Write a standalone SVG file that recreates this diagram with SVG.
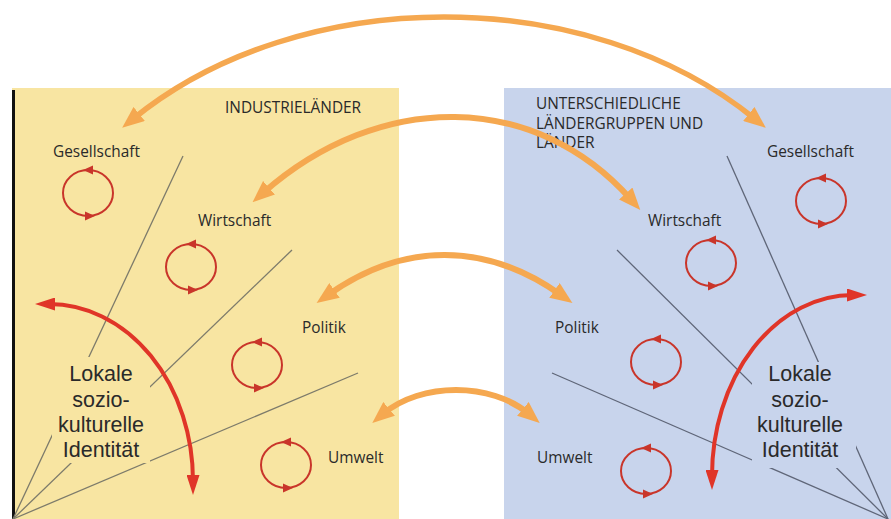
<svg xmlns="http://www.w3.org/2000/svg" xmlns:xlink="http://www.w3.org/1999/xlink" width="891" height="519" viewBox="0 0 891 519">
<style>
.lbl{font-family:"Open Sans","Liberation Sans",sans-serif;font-size:15.4px;fill:#2a2a2a}
.big{font-family:"Liberation Sans",Arial,sans-serif;font-size:21.5px;fill:#2a2a2a;text-anchor:middle}
.gl{stroke:#7d7b6b;stroke-width:1.3;fill:none}
.gb{stroke:#5f6678;stroke-width:1.3;fill:none}
.or{stroke:#f5a850;stroke-width:6;fill:none;marker-start:url(#ho);marker-end:url(#ho)}
.rd{stroke:#e03528;stroke-width:4;fill:none;marker-start:url(#hr);marker-end:url(#hr)}
.cy{stroke:#c9352a;stroke-width:2;fill:none}
.cyh{fill:#c9352a}
</style>
<defs>
<marker id="ho" viewBox="0 0 22 18" refX="8" refY="9" markerWidth="22" markerHeight="18" markerUnits="userSpaceOnUse" orient="auto-start-reverse">
<path d="M0,0 L22,9 L0,18 z" fill="#f5a850"/>
</marker>
<marker id="hr" viewBox="0 0 20 13" refX="6" refY="6.5" markerWidth="20" markerHeight="13" markerUnits="userSpaceOnUse" orient="auto-start-reverse">
<path d="M0,0 L20,6.5 L0,13 z" fill="#e03528"/>
</marker>
<g id="cycle">
<ellipse class="cy" cx="0" cy="0" rx="25" ry="23"/>
<polygon class="cyh" points="-5,-23 5,-27.5 5,-18.5"/>
<polygon class="cyh" points="7,23 -3,18.5 -3,27.5"/>
</g>
</defs>

<rect x="0" y="0" width="891" height="519" fill="#ffffff"/>
<rect x="12" y="88" width="387" height="431" fill="#f8e5a2"/>
<rect x="504" y="88" width="387" height="431" fill="#c8d4ec"/>
<line x1="13.5" y1="90" x2="13.5" y2="519" stroke="#111" stroke-width="3"/>

<g id="dividers">
<line class="gl" x1="183" y1="156" x2="13" y2="519"/>
<line class="gl" x1="292" y1="250" x2="13" y2="519"/>
<line class="gl" x1="358" y1="373" x2="13" y2="519"/>
<line class="gb" x1="727" y1="156" x2="888" y2="519"/>
<line class="gb" x1="617" y1="250" x2="888" y2="519"/>
<line class="gb" x1="552" y1="373" x2="888" y2="519"/>
</g>

<g id="identity-left">
<rect x="52" y="357" width="98" height="106" fill="#f8e5a2"/>
<text class="big"><tspan x="101" y="381">Lokale</tspan><tspan x="101" y="407">sozio-</tspan><tspan x="101" y="432">kulturelle</tspan><tspan x="101" y="457">Identität</tspan></text>
</g>
<g id="identity-right">
<rect x="752" y="362" width="104" height="106" fill="#c8d4ec"/>
<text class="big"><tspan x="800" y="381">Lokale</tspan><tspan x="800" y="407">sozio-</tspan><tspan x="800" y="432">kulturelle</tspan><tspan x="800" y="457">Identität</tspan></text>
</g>

<g id="title-left"><text class="lbl" x="225" y="113">INDUSTRIELÄNDER</text></g>
<g id="title-right">
<text class="lbl"><tspan x="536" y="109">UNTERSCHIEDLICHE</tspan><tspan x="536" y="129">LÄNDERGRUPPEN UND</tspan><tspan x="536" y="148">LÄNDER</tspan></text>
</g>

<g id="l-gesellschaft"><text class="lbl" x="53" y="157">Gesellschaft</text><use xlink:href="#cycle" href="#cycle" x="88" y="193"/></g>
<g id="l-wirtschaft"><text class="lbl" x="198" y="226">Wirtschaft</text><use xlink:href="#cycle" href="#cycle" x="191" y="267"/></g>
<g id="l-politik"><text class="lbl" x="302" y="333">Politik</text><use xlink:href="#cycle" href="#cycle" x="257" y="365"/></g>
<g id="l-umwelt"><text class="lbl" x="328" y="463">Umwelt</text><use xlink:href="#cycle" href="#cycle" x="286" y="465"/></g>
<g id="r-gesellschaft"><text class="lbl" x="767" y="157">Gesellschaft</text><use xlink:href="#cycle" href="#cycle" x="821" y="201"/></g>
<g id="r-wirtschaft"><text class="lbl" x="648" y="226">Wirtschaft</text><use xlink:href="#cycle" href="#cycle" x="711" y="263"/></g>
<g id="r-politik"><text class="lbl" x="555" y="333">Politik</text><use xlink:href="#cycle" href="#cycle" x="656" y="362"/></g>
<g id="r-umwelt"><text class="lbl" x="537" y="463">Umwelt</text><use xlink:href="#cycle" href="#cycle" x="646" y="471"/></g>

<g id="connectors">
<path class="rd" d="M49,304 A144 177 0 0 1 193,481"/>
<path class="rd" d="M712,476 A141 181 0 0 1 853,295"/>
<path class="or" style="stroke-width:5.5" d="M133,119 C300,-17 588,-17 755,119"/>
<path class="or" d="M263,193 C380,90 535,91 631,199.5"/>
<path class="or" d="M328,295 C403,241.7 486,241.7 561,295"/>
<path class="or" d="M383,414 C421,382 491,382 529,414"/>
</g>
</svg>
